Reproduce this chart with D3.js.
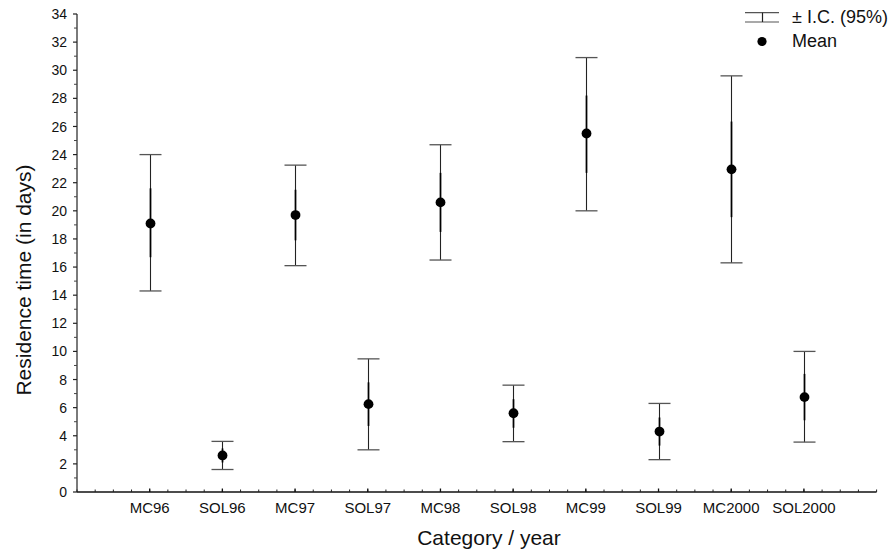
<!DOCTYPE html>
<html>
<head>
<meta charset="utf-8">
<script src="https://cdn.jsdelivr.net/npm/d3@7"></script>
<style>
  body { margin: 0; background: #fff; }
  svg { display: block; font-family: "Liberation Sans", Arial, sans-serif; }
</style>
</head>
<body>
<svg id="chart" width="896" height="556"></svg>
<script>
// ---- Data ----
const categories = ["MC96","SOL96","MC97","SOL97","MC98","SOL98","MC99","SOL99","MC2000","SOL2000"];
const means      = [19.1, 2.6, 19.7, 6.25, 20.6, 5.6, 25.5, 4.3, 22.95, 6.75];
const ciUpper    = [24.0, 3.6, 23.25, 9.47, 24.7, 7.6, 30.9, 6.3, 29.6, 10.0];
const ciLower    = [14.3, 1.6, 16.1, 3.0, 16.5, 3.58, 20.0, 2.3, 16.3, 3.55];
const seUpper    = [21.6, 3.1, 21.5, 7.8, 22.7, 6.6, 28.2, 5.3, 26.35, 8.4];
const seLower    = [16.7, 2.1, 17.9, 4.7, 18.5, 4.57, 22.7, 3.3, 19.55, 5.1];
const yTicks     = d3.range(0, 35, 2);
const legendLabels = ["± I.C. (95%)", "Mean"];
const xTitle = "Category / year";
const yTitle = "Residence time (in days)";

// ---- Layout ----
const svg = d3.select("#chart");
const pLeft = 77, pRight = 876.6, pTop = 14, pBottom = 492;

const x = d3.scaleLinear().domain([-1, categories.length]).range([pLeft, pRight]);
const y = d3.scaleLinear().domain([0, 34]).range([pBottom, pTop]);

// Y axis
const yAxisG = svg.append("g");
yAxisG.append("line")
  .attr("x1", pLeft).attr("x2", pLeft).attr("y1", y(34)).attr("y2", y(0))
  .attr("stroke", "#7a7a7a").attr("stroke-width", 2);
const yMinor = d3.range(1, 34, 2);
yAxisG.selectAll("line.minor").data(yMinor).join("line").attr("class","minor")
  .attr("x1", pLeft - 3).attr("x2", pLeft).attr("y1", d => y(d)).attr("y2", d => y(d))
  .attr("stroke", "#444").attr("stroke-width", 1);
yAxisG.selectAll("line.major").data(yTicks).join("line").attr("class","major")
  .attr("x1", pLeft - 4).attr("x2", pLeft).attr("y1", d => y(d)).attr("y2", d => y(d))
  .attr("stroke", "#222").attr("stroke-width", 1.2);
yAxisG.selectAll("text").data(yTicks).join("text")
  .attr("x", 67).attr("y", d => y(d)).attr("dy", "0.36em")
  .attr("text-anchor", "end").attr("font-size", "14px").attr("fill", "#111")
  .text(d => d);

// X axis
const xAxisG = svg.append("g");
xAxisG.append("line")
  .attr("x1", pLeft).attr("x2", pRight).attr("y1", pBottom).attr("y2", pBottom)
  .attr("stroke", "#111").attr("stroke-width", 1.5);
const xMinor = d3.range(-1, categories.length + 0.001, 0.25);
xAxisG.selectAll("line.minor").data(xMinor).join("line").attr("class","minor")
  .attr("x1", d => x(d)).attr("x2", d => x(d)).attr("y1", pBottom).attr("y2", pBottom - 2.5)
  .attr("stroke", "#222").attr("stroke-width", 1);
xAxisG.selectAll("line.major").data(categories).join("line").attr("class","major")
  .attr("x1", (d,i) => x(i)).attr("x2", (d,i) => x(i)).attr("y1", pBottom).attr("y2", pBottom - 3.5)
  .attr("stroke", "#111").attr("stroke-width", 1.3);
xAxisG.selectAll("text").data(categories).join("text")
  .attr("x", (d,i) => x(i)).attr("y", 513)
  .attr("text-anchor", "middle").attr("font-size", "15px").attr("fill", "#111")
  .text(d => d);

// Axis titles
svg.append("text").attr("x", 489).attr("y", 545).attr("text-anchor", "middle")
  .attr("font-size", "21px").attr("fill", "#111").text(xTitle);
svg.append("text").attr("transform", "translate(31,280) rotate(-90)")
  .attr("text-anchor", "middle").attr("font-size", "21px").attr("fill", "#111").text(yTitle);

// Error bars
const capW = 11;
const g = svg.append("g");
categories.forEach((c, i) => {
  const cx = Math.round(x(i)) + 0.5;
  g.append("line").attr("x1", cx).attr("x2", cx).attr("y1", y(ciUpper[i])).attr("y2", y(ciLower[i]))
    .attr("stroke", "#222").attr("stroke-width", 1.1);
  g.append("line").attr("x1", cx).attr("x2", cx).attr("y1", y(seUpper[i])).attr("y2", y(seLower[i]))
    .attr("stroke", "#000").attr("stroke-width", 1.7);
  [ciUpper[i], ciLower[i]].forEach(v => {
    g.append("line").attr("x1", cx - capW).attr("x2", cx + capW).attr("y1", y(v)).attr("y2", y(v))
      .attr("stroke", "#555").attr("stroke-width", 1.3);
  });
  g.append("circle").attr("cx", cx).attr("cy", y(means[i])).attr("r", 4.9).attr("fill", "#000");
});

// Legend
const lg = svg.append("g");
lg.append("line").attr("x1", 745).attr("x2", 779).attr("y1", 12.7).attr("y2", 12.7).attr("stroke", "#555").attr("stroke-width", 1.2);
lg.append("line").attr("x1", 745).attr("x2", 779).attr("y1", 22).attr("y2", 22).attr("stroke", "#555").attr("stroke-width", 1.2);
lg.append("line").attr("x1", 762.5).attr("x2", 762.5).attr("y1", 12.7).attr("y2", 22).attr("stroke", "#222").attr("stroke-width", 1.2);
lg.append("circle").attr("cx", 762).attr("cy", 41.5).attr("r", 4.6).attr("fill", "#000");
lg.selectAll("text").data(legendLabels).join("text")
  .attr("x", 792).attr("y", (d,i) => i === 0 ? 22.5 : 46.5)
  .attr("font-size", "18px").attr("fill", "#111").text(d => d);
</script>
</body>
</html>
